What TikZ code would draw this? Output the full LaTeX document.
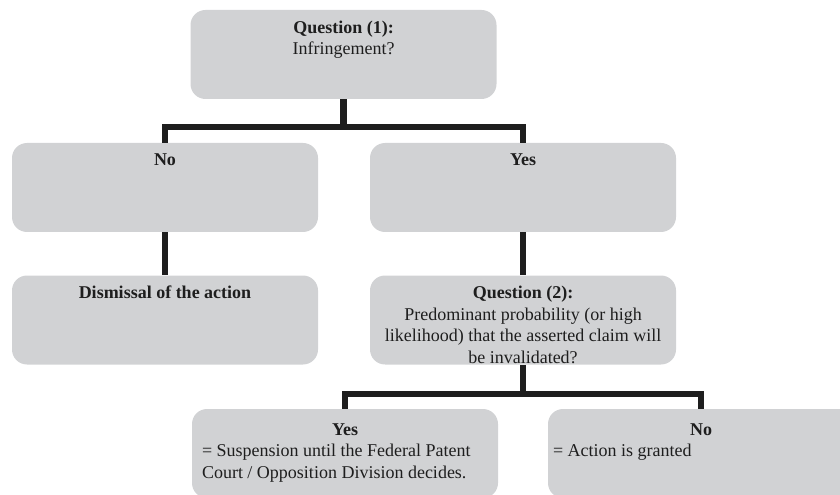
\documentclass[tikz,border=0pt]{standalone}
\usepackage{fontspec}
\setmainfont{Liberation Serif}
\definecolor{boxgray}{RGB}{209,210,212}
\definecolor{inkgray}{RGB}{30,30,30}
\newcommand{\boxw}{183.6pt}
\newcommand{\boxh}{53.4pt}
\newcommand{\boxtxt}[2][6.4pt]{\parbox[c][\boxh][t]{\boxw}{\vspace*{#1}#2}}

\begin{document}
\begin{tikzpicture}[x=0.6pt, y=-0.6pt,
	box/.style={fill=boxgray, rounded corners=9pt, inner sep=0pt,
		text=inkgray, font={\fontsize{10.8}{12.9}\selectfont}},
	link/.style={draw=inkgray, line width=3.9pt}]
	\clip (0,0) rectangle (840,495);
	% boxes
	\node[box] (q1) at (343.5,54.5) {\boxtxt{\centering\textbf{Question (1):}\\Infringement?}};
	\node[box] (no) at (165,187.5) {\boxtxt{\centering\textbf{No}}};
	\node[box] (yes) at (523,187.5) {\boxtxt{\centering\textbf{Yes}}};
	\node[box] (dism) at (165,320) {\boxtxt{\centering\textbf{Dismissal of the action}}};
	\node[box] (q2) at (523,320) {\boxtxt{\centering\textbf{Question (2):}\\Predominant probability (or high\\likelihood) that the asserted claim will\\be invalidated?}};
	\node[box] (byes) at (345,453.5) {\boxtxt[8.6pt]{{\centering\textbf{Yes}\par}\raggedright\leftskip=6pt
		= Suspension until the Federal Patent\\Court / Opposition Division decides.}};
	\node[box] (bno) at (701,453.5) {\boxtxt[8.6pt]{{\centering\textbf{No}\par}\raggedright\leftskip=3pt
		= Action is granted}};
	% connectors
	\coordinate (j1) at (343.5,127);
	\coordinate (j2) at (523,394);
	\draw[link] (q1.south) -- (j1);
	\draw[link] (no.north) |- (j1) -| (yes.north);
	\draw[link] (no.south) -- (dism.north);
	\draw[link] (yes.south) -- (q2.north);
	\draw[link] (q2.south) -- (j2);
	\draw[link] (byes.north) |- (j2) -| (bno.north);
\end{tikzpicture}
\end{document}
